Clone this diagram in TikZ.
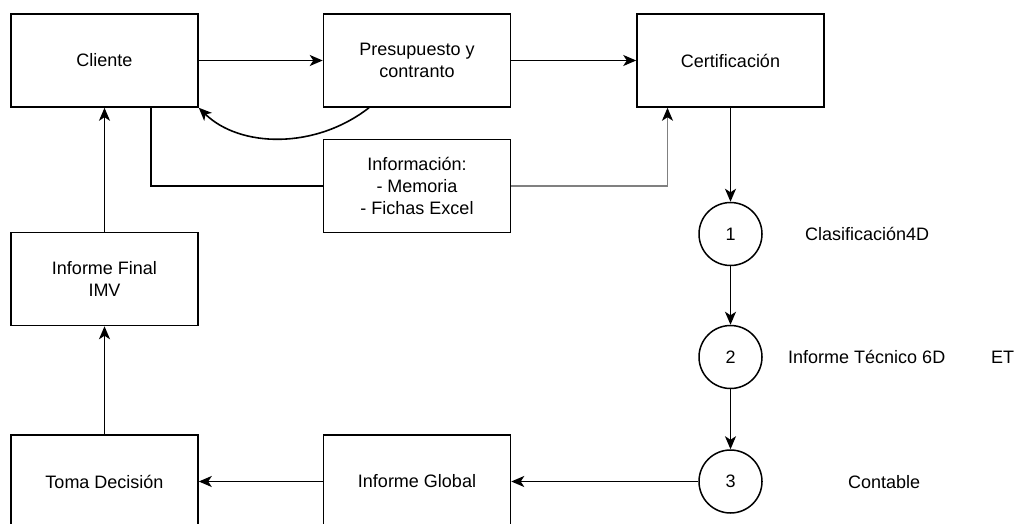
\documentclass[tikz,border=0pt]{standalone}
\usepackage{fontspec}
\setmainfont{Liberation Sans}
\usepackage{tikz}
\usetikzlibrary{positioning}
\usetikzlibrary{arrows.meta}

\begin{document}
\begin{tikzpicture}[x=1pt,y=-1pt,
	box/.style={draw,rectangle,line width=1.5pt,minimum width=187pt,minimum height=93pt,align=center,font=\fontsize{18}{21.6}\selectfont},
	num/.style={draw,circle,line width=1.5pt,minimum size=63pt,inner sep=0pt,font=\fontsize{18}{21.6}\selectfont},
	lbl/.style={inner sep=0pt,anchor=west,font=\fontsize{18}{21.6}\selectfont},
	arr/.style={line width=1.6pt,-{Stealth[length=13pt,width=11pt,inset=3.5pt,color=black]}},
	link/.style={line width=1.6pt}]
		\clip (0,0) rectangle (1016,524);
		\node[box] at (104.5,60.5) (cliente) {Cliente};
		\node[box, right=124pt of cliente] (presupuesto) {Presupuesto y\\contranto};
		\node[box, right=125pt of presupuesto] (certificacion) {Certificación};
		\node[box, below=31pt of presupuesto] (informacion) {Información:\\- Memoria\\- Fichas Excel};
		\node[box, below=124pt of cliente] (final) {Informe Final\\IMV};
		\node[box, below=108pt of final] (decision) {Toma Decisión};
		\node[box, right=124pt of decision] (global) {Informe Global};
		\node[num] at (certificacion |- 0,234) (uno) {1};
		\node[num] at (certificacion |- 0,357) (dos) {2};
		\node[num] at (certificacion |- global) (tres) {3};
		\node[lbl] at (805,234) (clasif) {Clasificación4D};
		\node[lbl] at (788,357) (tecnico) {Informe Técnico 6D};
		\node[lbl] at (991,357) (et) {ET};
		\node[lbl] at (848,482) (contable) {Contable};
		\draw[arr] (cliente) to (presupuesto);
		\draw[arr] (presupuesto) to (certificacion);
		\draw[arr] ([xshift=-48pt]presupuesto.south) .. controls +(-54,42) and +(41,40) .. (cliente.south east);
		\draw[link] ([xshift=46.5pt]cliente.south) |- (informacion.west);
		\draw[arr, draw=gray] (informacion.east) -| ([xshift=-63pt]certificacion.south);
		\draw[arr] (certificacion) to (uno);
		\draw[arr] (uno) to (dos);
		\draw[arr] (dos) to (tres);
		\draw[arr] (tres) to (global);
		\draw[arr] (global) to (decision);
		\draw[arr] (decision) to (final);
		\draw[arr] (final) to (cliente);
	\end{tikzpicture}
\end{document}
